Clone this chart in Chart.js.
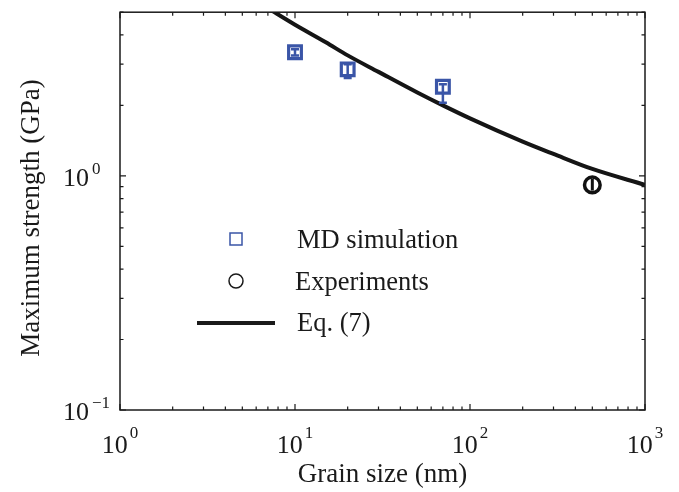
<!DOCTYPE html>
<html>
<head>
<meta charset="utf-8">
<script src="https://cdn.jsdelivr.net/npm/chart.js@4/dist/chart.umd.min.js"></script>
<style>
  body { margin: 0; background: #fff; }
  #wrap { width: 679px; height: 492px; }
</style>
</head>
<body>
<div id="wrap"><canvas id="chart" width="679" height="492"></canvas></div>
<script>
// data
const mdSize = [10, 20, 70];
const mdStrength = [3.37, 2.85, 2.40];
const mdErrLow = [3.27, 2.62, 2.05];
const mdErrHigh = [3.47, 3.0, 2.46];

const expSize = [500];
const expStrength = [0.915];
const expErrLow = [0.865];
const expErrHigh = [0.97];

const eqSize = [7, 10, 15, 20, 30, 50, 70, 100, 200, 300, 500, 1000];
const eqStrength = [5.2, 4.42, 3.72, 3.27, 2.78, 2.27, 2.0, 1.76, 1.40, 1.24, 1.07, 0.915];

const xTicks = [1, 10, 100, 1000];
const xTickExp = ['0', '1', '2', '3'];
const yTicks = [0.1, 1];
const yTickExp = ['\u22121', '0'];

const blue = '#3a55a7';
const serif = '"Liberation Serif", "Times New Roman", serif';

function pts(xs, ys) {
  return xs.map((x, i) => ({ x: x, y: ys[i] }));
}

// minor ticks for log axes
function minorTicks(lo, hi) {
  let out = [];
  for (let d = lo; d < hi; d *= 10) {
    for (let k = 2; k <= 9; k++) {
      let v = k * d;
      if (v <= hi + 1e-9) out.push(v);
    }
  }
  return out;
}

const decorPlugin = {
  id: 'decor',
  afterDatasetsDraw(chart) {
    const ctx = chart.ctx;
    const xs = chart.scales.x, ys = chart.scales.y;
    const a = chart.chartArea;
    ctx.save();

    // error bars
    ctx.strokeStyle = blue;
    ctx.lineWidth = 2.5;
    mdSize.forEach((s, i) => {
      let px = xs.getPixelForValue(s);
      let y1 = ys.getPixelForValue(mdErrLow[i]);
      let y2 = ys.getPixelForValue(mdErrHigh[i]);
      ctx.beginPath();
      ctx.moveTo(px, y1); ctx.lineTo(px, y2);
      ctx.moveTo(px - 4, y1); ctx.lineTo(px + 4, y1);
      ctx.moveTo(px - 4, y2); ctx.lineTo(px + 4, y2);
      ctx.stroke();
    });
    ctx.strokeStyle = '#111';
    ctx.lineWidth = 3;
    expSize.forEach((s, i) => {
      let px = xs.getPixelForValue(s);
      ctx.beginPath();
      ctx.moveTo(px, ys.getPixelForValue(expErrLow[i]));
      ctx.lineTo(px, ys.getPixelForValue(expErrHigh[i]));
      ctx.stroke();
    });

    // frame
    ctx.strokeStyle = '#1a1a1a';
    ctx.lineWidth = 1.5;
    ctx.strokeRect(a.left, a.top, a.right - a.left, a.bottom - a.top);

    // inward ticks
    ctx.lineWidth = 1.2;
    ctx.beginPath();
    xTicks.forEach(v => {
      let p = xs.getPixelForValue(v);
      ctx.moveTo(p, a.bottom); ctx.lineTo(p, a.bottom - 6);
      ctx.moveTo(p, a.top); ctx.lineTo(p, a.top + 6);
    });
    minorTicks(1, 1000).forEach(v => {
      let p = xs.getPixelForValue(v);
      ctx.moveTo(p, a.bottom); ctx.lineTo(p, a.bottom - 3.5);
      ctx.moveTo(p, a.top); ctx.lineTo(p, a.top + 3.5);
    });
    yTicks.forEach(v => {
      let p = ys.getPixelForValue(v);
      ctx.moveTo(a.left, p); ctx.lineTo(a.left + 6, p);
      ctx.moveTo(a.right, p); ctx.lineTo(a.right - 6, p);
    });
    minorTicks(0.1, 5).forEach(v => {
      let p = ys.getPixelForValue(v);
      ctx.moveTo(a.left, p); ctx.lineTo(a.left + 3.5, p);
      ctx.moveTo(a.right, p); ctx.lineTo(a.right - 3.5, p);
    });
    ctx.stroke();

    // tick labels with superscripts
    ctx.fillStyle = '#1a1a1a';
    ctx.textBaseline = 'alphabetic';
    ctx.textAlign = 'left';
    const big = '26px ' + serif, small = '17px ' + serif;
    xTicks.forEach((v, i) => {
      let p = xs.getPixelForValue(v);
      ctx.font = big; let w1 = ctx.measureText('10').width;
      ctx.font = small; let w2 = ctx.measureText(xTickExp[i]).width;
      let x0 = p - (w1 + w2) / 2 - 1;
      ctx.font = big;
      ctx.fillText('10', x0, a.bottom + 43);
      ctx.font = small;
      ctx.fillText(xTickExp[i], x0 + w1 + 2, a.bottom + 28);
    });
    yTicks.forEach((v, i) => {
      let p = ys.getPixelForValue(v);
      ctx.font = big; let w1 = ctx.measureText('10').width;
      ctx.fillText('10', 63, p + 10);
      ctx.font = small;
      ctx.fillText(yTickExp[i], 63 + w1 + 3, p - 2);
    });

    // axis titles
    ctx.font = '27px ' + serif;
    ctx.textAlign = 'center';
    ctx.fillText('Grain size (nm)', (a.left + a.right) / 2, 482);
    ctx.save();
    ctx.translate(39, 218);
    ctx.rotate(-Math.PI / 2);
    ctx.fillText('Maximum strength (GPa)', 0, 0);
    ctx.restore();

    // legend
    ctx.font = '26.5px ' + serif;
    ctx.textAlign = 'left';
    ctx.strokeStyle = blue;
    ctx.lineWidth = 1.5;
    ctx.strokeRect(230, 233, 12, 12);
    ctx.strokeStyle = '#1a1a1a';
    ctx.beginPath();
    ctx.arc(236, 281, 7, 0, Math.PI * 2);
    ctx.stroke();
    ctx.lineWidth = 4;
    ctx.beginPath();
    ctx.moveTo(197, 323); ctx.lineTo(275, 323);
    ctx.stroke();
    ctx.fillText('MD simulation', 297, 248);
    ctx.fillText('Experiments', 295, 290);
    ctx.fillText('Eq. (7)', 297, 331);

    ctx.restore();
  }
};

new Chart(document.getElementById('chart'), {
  type: 'line',
  data: {
    datasets: [
      {
        label: 'MD simulation',
        data: pts(mdSize, mdStrength),
        showLine: false,
        pointStyle: 'rect',
        pointRadius: 9,
        borderWidth: 3.2,
        borderColor: blue,
        backgroundColor: '#fff',
        order: 1
      },
      {
        label: 'Experiments',
        data: pts(expSize, expStrength),
        showLine: false,
        pointStyle: 'circle',
        pointRadius: 7.8,
        borderWidth: 3.5,
        borderColor: '#111',
        backgroundColor: '#fff',
        order: 1
      },
      {
        label: 'Eq. (7)',
        data: pts(eqSize, eqStrength),
        borderColor: '#151515',
        borderWidth: 4,
        pointRadius: 0,
        cubicInterpolationMode: 'monotone',
        fill: false,
        order: 2
      }
    ]
  },
  options: {
    responsive: false,
    animation: false,
    layout: { padding: { left: 120, right: 34, top: 12, bottom: 82 } },
    plugins: { legend: { display: false }, tooltip: { enabled: false } },
    scales: {
      x: { type: 'logarithmic', min: 1, max: 1000, display: false },
      y: { type: 'logarithmic', min: 0.1, max: 5, display: false }
    }
  },
  plugins: [decorPlugin]
});
</script>
</body>
</html>
